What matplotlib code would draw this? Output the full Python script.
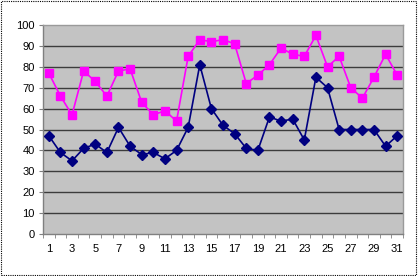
import matplotlib
matplotlib.use("Agg")
import matplotlib.pyplot as plt
import numpy as np
from matplotlib.patches import Rectangle

days = list(range(1, 32))
upper = [77, 66, 57, 78, 73, 66, 78, 79, 63, 57, 59, 54, 85, 93, 92, 93,
         91, 72, 76, 81, 89, 86, 85, 95, 80, 85, 70, 65, 75, 86, 76]
lower = [47, 39, 35, 41, 43, 39, 51, 42, 38, 39, 36, 40, 51, 81, 60, 52,
         48, 41, 40, 56, 54, 55, 45, 75, 70, 50, 50, 50, 50, 42, 47]
y_ticks = list(range(0, 101, 10))
x_labels = [str(d) if d % 2 == 1 else "" for d in days]

plt.rcParams["font.family"] = ["Liberation Sans", "DejaVu Sans"]

fig = plt.figure(figsize=(4.18, 2.76), dpi=100)
ax = fig.add_axes([43 / 418, 1 - 234 / 276, 360 / 418, 209 / 276])

ax.set_facecolor("#c3c3c3")
for y in y_ticks[1:-1]:
    ax.axhline(y, color="#3c3c3c", linewidth=1.0, zorder=1)

ax.plot(days, upper, color="#ff00ff", linewidth=1.2, marker="s",
        markersize=6, markerfacecolor="#ff00ff", markeredgecolor="#ff00ff", zorder=3)
ax.plot(days, lower, color="#000080", linewidth=1.2, marker="D",
        markersize=5, markerfacecolor="#000080", markeredgecolor="#000080", zorder=3)

ax.set_xlim(0.5, 31.5)
ax.set_ylim(0, 100)
ax.set_yticks(y_ticks)
ax.set_yticklabels([str(v) for v in y_ticks], fontsize=8)
ax.set_xticks(days)
ax.set_xticklabels(x_labels, fontsize=8)
ax.set_xticks(np.arange(0.5, 32, 1), minor=True)
ax.tick_params(axis="x", which="major", length=0, pad=7)
ax.tick_params(axis="x", which="minor", length=3, color="#808080", direction="out")
ax.tick_params(axis="y", length=3, color="#808080", direction="out", pad=3)

for side in ["left", "bottom"]:
    ax.spines[side].set_color("#808080")
    ax.spines[side].set_linewidth(1.0)
for side in ["top", "right"]:
    ax.spines[side].set_color("#9a9a9a")
    ax.spines[side].set_linewidth(1.0)

border = Rectangle((0.003, 0.004), 0.992, 0.992, transform=fig.transFigure,
                   fill=False, edgecolor="black", linewidth=0.8, linestyle=(0, (1, 1)))
fig.patches.append(border)

fig.savefig("out.png", dpi=100)
